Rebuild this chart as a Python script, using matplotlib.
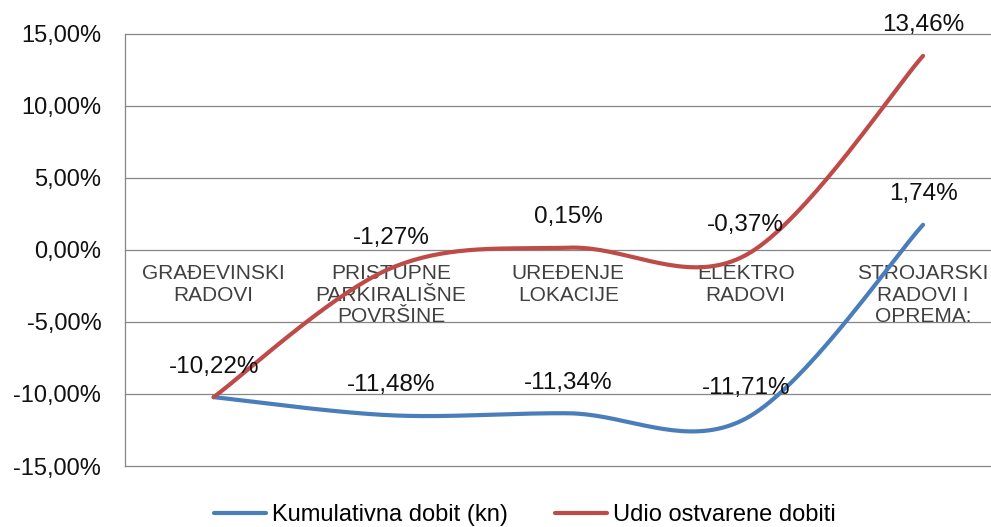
import numpy as np
import matplotlib
matplotlib.use("Agg")
import matplotlib.pyplot as plt
from matplotlib.ticker import FuncFormatter, MultipleLocator

# podaci s grafa
kategorije = ["GRAĐEVINSKI\nRADOVI", "PRISTUPNE\nPARKIRALIŠNE\nPOVRŠINE",
              "UREĐENJE\nLOKACIJE", "ELEKTRO\nRADOVI", "STROJARSKI\nRADOVI I\nOPREMA:"]
kumulativna = [-10.22, -11.48, -11.34, -11.71, 1.74]
udio = [-10.22, -1.27, 0.15, -0.37, 13.46]

plt.rcParams["font.family"] = ["Liberation Sans", "DejaVu Sans"]


def zagladi(y, n=40):
    # Excel-style smoothing (Bezier, Catmull-Rom kontrolne tocke)
    x = np.arange(len(y), dtype=float)
    y = np.asarray(y, dtype=float)
    xs, ys = [], []
    for i in range(len(y) - 1):
        im1 = max(i - 1, 0)
        ip2 = min(i + 2, len(y) - 1)
        p0 = np.array([x[i], y[i]])
        p3 = np.array([x[i + 1], y[i + 1]])
        c1 = p0 + (p3 - np.array([x[im1], y[im1]])) / 6
        c2 = p3 - (np.array([x[ip2], y[ip2]]) - p0) / 6
        t = np.linspace(0, 1, n)[:, None]
        b = ((1 - t) ** 3) * p0 + 3 * ((1 - t) ** 2) * t * c1 + 3 * (1 - t) * t ** 2 * c2 + t ** 3 * p3
        xs.extend(b[:, 0])
        ys.extend(b[:, 1])
    return xs, ys


fig = plt.figure(figsize=(9.91, 5.27), dpi=100)
ax = fig.add_axes([0.1261, 0.1157, 0.8948, 0.8204])

plave = "#4A7EBB"
crvena = "#BE4B48"

x1, y1 = zagladi(kumulativna)
x2, y2 = zagladi(udio)
ax.plot(x1, y1, color=plave, lw=3, solid_capstyle="round", label="Kumulativna dobit (kn)", zorder=3)
ax.plot(x2, y2, color=crvena, lw=3, solid_capstyle="round", label="Udio ostvarene dobiti", zorder=3)


def fmt(v):
    return f"{v:.2f}%".replace(".", ",")


for i, v in enumerate(kumulativna):
    ax.annotate(fmt(v), (i, v), xytext=(0, 22), textcoords="offset points",
                ha="center", va="center", fontsize=17.5, color="#111111", zorder=4)
for i, v in enumerate(udio[1:], start=1):
    ax.annotate(fmt(v), (i, v), xytext=(0, 22), textcoords="offset points",
                ha="center", va="center", fontsize=17.5, color="#111111", zorder=4)

# nazivi kategorija na osi 0
for i, k in enumerate(kategorije):
    ax.text(i, -1.0, k, ha="center", va="top", fontsize=15, color="#404040",
            linespacing=1.15, zorder=2)

ax.set_xlim(-0.5, 4.5)
ax.set_ylim(-15, 15)
ax.yaxis.set_major_locator(MultipleLocator(5))
ax.yaxis.set_major_formatter(FuncFormatter(lambda v, p: f"{v:.2f}%".replace(".", ",")))
ax.set_xticks([])
ax.tick_params(axis="y", length=0, pad=17, labelsize=17, labelcolor="#111111")
ax.grid(axis="y", color="#868686", lw=0.9)
for gl in ax.get_ygridlines():
    gl.set_clip_on(False)
ax.set_axisbelow(True)
for s in ["top", "right", "bottom"]:
    ax.spines[s].set_visible(False)
ax.spines["left"].set_color("#868686")
ax.spines["left"].set_linewidth(0.9)

fig.legend(loc="center", bbox_to_anchor=(0.53, 0.022), ncol=2, frameon=False,
           fontsize=17, handlelength=2.2, handletextpad=0.25, columnspacing=2.0)

plt.savefig("out.png", dpi=100)
plt.close()
